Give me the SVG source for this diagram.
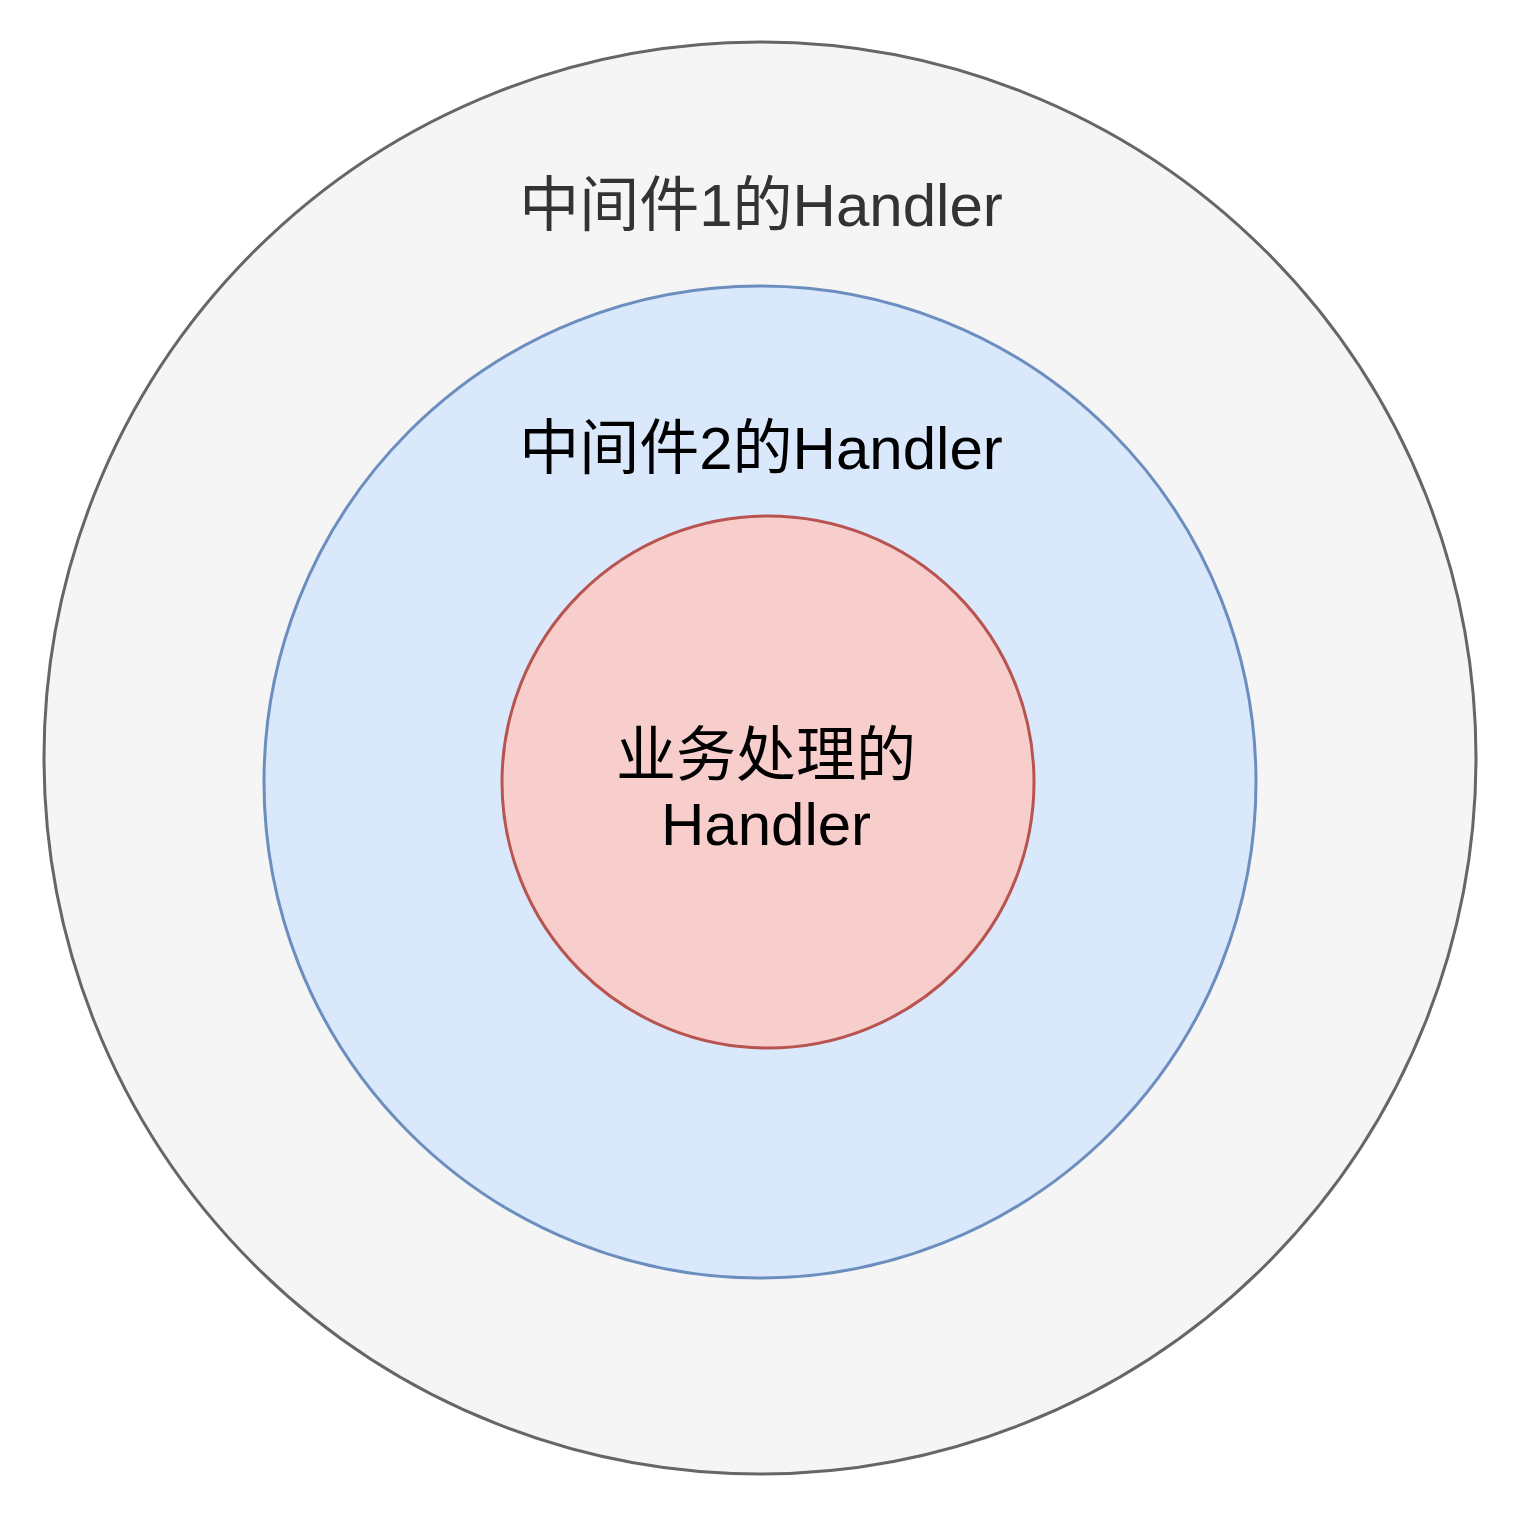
<svg xmlns="http://www.w3.org/2000/svg" width="1516" height="1516" viewBox="0 0 1516 1516">
<style>
.t{font-family:"Liberation Sans","Noto Sans CJK SC",sans-serif;font-size:60px;text-anchor:middle}
.c{stroke-width:3}
</style>
<rect width="1516" height="1516" fill="#ffffff"/>
<g id="outer">
<circle class="c" cx="760" cy="758" r="716" fill="#f5f5f5" stroke="#666666"/>
<text class="t" x="761" y="226" fill="#333333">中间件1的Handler</text>
</g>
<g id="middle">
<circle class="c" cx="760" cy="782" r="496" fill="#dae8fc" stroke="#6c8ebf"/>
<text class="t" x="761" y="469" fill="#000000">中间件2的Handler</text>
</g>
<g id="inner">
<circle class="c" cx="768" cy="782" r="266" fill="#f8cecc" stroke="#b85450"/>
<text class="t" x="766" y="776" fill="#000000">业务处理的</text>
<text class="t" x="766" y="845" fill="#000000">Handler</text>
</g>
<g id="connectors"/>
</svg>
